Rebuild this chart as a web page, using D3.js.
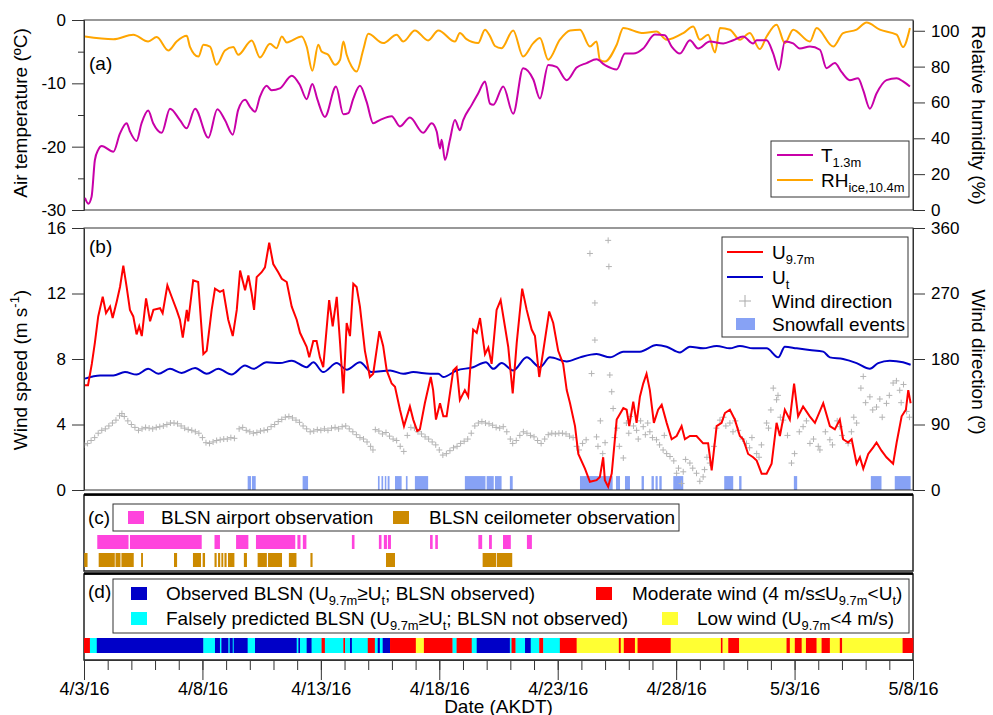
<!DOCTYPE html>
<html><head><meta charset="utf-8">
<script src="https://cdn.jsdelivr.net/npm/d3@7"></script>
<style>
body{margin:0;background:#fff}
text{font-family:"Liberation Sans",Arial,sans-serif;fill:#000}
</style>
</head><body><svg id="c" width="993" height="715"></svg>
<script>
// ---------- DATA (time in days since 4/3/16 00:00 AKDT) ----------
const dateLabels = ["4/3/16","4/8/16","4/13/16","4/18/16","4/23/16","4/28/16","5/3/16","5/8/16"];
const majorDays = [0,5,10,15,20,25,30,35];
const tempTicks = [-30,-20,-10,0];
const rhTicks = [0,20,40,60,80,100];
const speedTicks = [0,4,8,12,16];
const dirTicks = [0,90,180,270,360];

const airTemp = [[0.04,-28.1],[0.18,-29],[0.32,-27.9],[0.46,-22.1],[0.6,-20.5],[0.75,-19.9],[1.24,-20.8],[1.52,-17.9],[1.8,-16.3],[1.94,-17.6],[2.22,-19.1],[2.43,-16.3],[2.71,-14.3],[2.92,-16.3],[3.28,-17.8],[3.63,-14.0],[4.05,-15.8],[4.33,-17.1],[4.69,-14.0],[5.25,-18.6],[5.63,-14.1],[5.95,-15.8],[6.28,-18.1],[6.51,-14.2],[6.8,-12.6],[7.01,-13.7],[7.22,-14.5],[7.43,-12.1],[7.71,-10.4],[7.92,-11.1],[8.27,-10.8],[8.77,-8.8],[9.12,-10.3],[9.4,-12.5],[9.64,-10.1],[9.85,-12.5],[10.17,-15.3],[10.64,-10.5],[10.95,-14.9],[11.16,-14.7],[11.37,-12.4],[11.65,-10.4],[11.93,-12.9],[12.21,-16.3],[12.49,-15.8],[12.99,-15.2],[13.34,-16.8],[13.76,-15.4],[14.32,-17.8],[14.68,-16.3],[14.89,-17.6],[15.03,-20.3],[15.1,-18.9],[15.24,-22.1],[15.45,-18.9],[15.66,-15.8],[15.87,-17.4],[16.01,-15.8],[16.37,-13.4],[16.64,-11.6],[16.93,-9.7],[17.14,-13.2],[17.28,-13.4],[17.7,-10.5],[18.12,-14.8],[18.54,-7.6],[18.97,-9.4],[19.25,-12.4],[19.6,-7.1],[19.95,-7.4],[20.38,-9.5],[20.8,-7.5],[21.22,-6.8],[21.64,-6.2],[21.99,-7.1],[22.49,-7.8],[22.84,-5.3],[23.19,-5.3],[23.61,-4.5],[24.1,-2.3],[24.52,-2.4],[24.81,-4.2],[25.16,-5.3],[25.58,-3.2],[25.93,-4.5],[26.42,-3.4],[26.99,-3.7],[27.41,-3.2],[27.83,-2.6],[28.25,-3.7],[28.4,-3.2],[28.82,-3.2],[29.1,-5.3],[29.34,-7.9],[29.59,-3.4],[29.94,-3.7],[30.22,-4.5],[30.65,-4.2],[31.07,-4.7],[31.35,-7.6],[31.7,-6.8],[31.98,-8.2],[32.33,-9.5],[32.68,-9.2],[32.9,-11.1],[33.18,-14.0],[33.46,-11.6],[33.88,-9.5],[34.31,-9.2],[34.58,-9.7],[34.87,-10.5]];

const relHum = [[0.04,96.8],[1.24,95.3],[2.08,97.8],[2.71,94.0],[3.07,96.5],[3.56,89.0],[3.91,94.0],[4.34,97.2],[4.47,91.2],[4.83,85.6],[5.04,92.2],[5.32,91.2],[5.6,81.0],[5.95,89.0],[6.3,90.9],[6.51,86.6],[7.08,94.6],[7.43,85.1],[7.85,92.7],[8.13,90.3],[8.35,96.8],[8.56,93.5],[9.19,96.8],[9.4,91.2],[9.64,77.7],[9.89,92.2],[10.03,88.4],[10.31,86.6],[10.6,81.0],[10.81,83.8],[10.95,94.0],[11.09,86.6],[11.3,80.1],[11.51,77.3],[11.79,89.4],[12.0,98.3],[12.63,93.1],[13.2,97.8],[13.48,94.0],[13.97,100.2],[14.53,94.6],[14.96,100.2],[15.66,94.0],[15.87,98.7],[16.15,95.3],[16.64,93.1],[16.93,100.6],[17.14,97.0],[17.35,91.5],[17.63,90.3],[18.12,100.2],[18.54,85.6],[18.97,93.1],[19.25,95.9],[19.6,83.8],[20.09,95.0],[20.52,100.2],[20.94,100.6],[21.36,91.2],[21.64,94.0],[21.78,83.8],[21.99,82.8],[22.49,92.2],[22.77,101.5],[23.61,98.7],[24.17,99.6],[24.6,95.0],[25.3,98.7],[25.72,102.4],[26.0,95.0],[26.35,97.8],[26.64,87.9],[26.85,101.5],[27.27,100.6],[27.69,95.0],[28.11,98.7],[28.53,89.8],[28.82,96.8],[29.24,103.4],[29.59,93.1],[29.94,100.6],[30.65,94.0],[30.93,101.5],[31.63,91.2],[32.05,98.7],[32.62,100.6],[33.04,104.6],[33.6,100.6],[34.31,97.8],[34.58,90.9],[34.87,101.5]];

const windSpeed = [[0.04,6.4],[0.17,6.4],[0.33,7.7],[0.46,9.0],[0.6,10.6],[0.79,11.8],[0.93,10.8],[1.1,11.2],[1.21,10.5],[1.38,11.5],[1.52,12.4],[1.66,13.7],[1.8,12.4],[1.94,11.0],[2.08,10.6],[2.22,9.5],[2.33,10.0],[2.44,9.4],[2.62,11.7],[2.79,10.3],[2.93,11.0],[3.21,11.1],[3.32,10.8],[3.52,12.5],[3.7,11.8],[3.91,11.0],[4.05,10.4],[4.17,9.3],[4.34,11.0],[4.4,10.3],[4.61,12.8],[4.82,12.7],[5.04,8.3],[5.18,8.5],[5.39,11.0],[5.53,12.3],[5.74,12.1],[5.88,12.2],[6.09,10.4],[6.28,9.4],[6.45,11.0],[6.59,13.4],[6.8,12.2],[6.94,13.1],[7.08,12.0],[7.18,11.0],[7.29,13.0],[7.5,13.3],[7.64,13.6],[7.82,15.1],[7.99,13.8],[8.2,13.3],[8.35,12.9],[8.56,12.7],[8.77,11.2],[8.98,10.4],[9.12,9.6],[9.4,8.75],[9.51,8.1],[9.68,9.1],[9.82,9.1],[9.96,8.1],[10.1,7.5],[10.35,11.6],[10.5,10.0],[10.67,11.8],[10.81,9.0],[10.95,5.9],[11.09,10.2],[11.23,9.4],[11.37,12.6],[11.51,12.4],[11.65,11.2],[11.86,8.5],[12.07,6.9],[12.21,7.1],[12.47,9.7],[12.63,8.8],[12.78,7.3],[12.99,6.5],[13.13,6.3],[13.34,4.9],[13.51,3.9],[13.76,5.1],[13.9,4.3],[14.07,3.6],[14.18,3.7],[14.39,5.3],[14.64,6.9],[14.74,6.1],[14.86,4.3],[15.03,5.3],[15.17,4.5],[15.31,4.5],[15.59,7.3],[15.73,7.5],[15.87,5.5],[16.08,6.1],[16.22,5.7],[16.43,9.8],[16.58,9.6],[16.72,10.5],[16.93,8.3],[17.07,8.7],[17.21,7.7],[17.42,11.0],[17.59,11.6],[17.77,10.0],[17.91,8.75],[18.1,5.9],[18.27,9.0],[18.5,12.3],[18.69,11.0],[18.9,9.8],[19.04,9.4],[19.22,6.9],[19.39,8.5],[19.64,10.9],[19.81,10.2],[20.02,8.5],[20.23,7.7],[20.38,6.1],[20.52,5.3],[20.73,3.9],[20.87,2.2],[21.15,1.3],[21.36,0.5],[21.64,0.6],[21.78,0.8],[21.92,2.0],[21.99,0.6],[22.13,0.2],[22.28,1.0],[22.49,4.3],[22.77,5.0],[22.91,4.9],[23.02,3.9],[23.19,5.4],[23.33,4.1],[23.47,5.7],[23.61,6.5],[23.75,7.1],[23.89,6.1],[24.06,4.1],[24.24,4.9],[24.39,5.2],[24.6,4.1],[24.81,3.1],[25.02,3.3],[25.23,3.9],[25.37,3.1],[25.58,3.3],[25.86,3.3],[26.14,2.85],[26.35,2.85],[26.5,1.2],[26.71,3.9],[26.92,4.1],[27.06,4.7],[27.27,4.9],[27.48,4.3],[27.69,3.3],[27.83,3.1],[28.04,2.2],[28.25,2.0],[28.4,1.8],[28.61,1.0],[28.82,1.0],[29.03,1.6],[29.24,4.1],[29.38,3.3],[29.59,4.9],[29.8,4.3],[29.98,6.5],[30.15,4.5],[30.36,5.1],[30.64,4.5],[30.86,4.1],[31.21,5.3],[31.49,3.9],[31.7,3.7],[31.91,4.3],[32.05,3.1],[32.26,2.9],[32.41,3.1],[32.62,1.6],[32.76,2.0],[32.9,1.3],[33.11,2.2],[33.32,2.6],[33.46,2.9],[33.67,2.4],[33.88,2.0],[34.02,1.8],[34.16,1.6],[34.31,2.9],[34.52,4.5],[34.7,4.9],[34.8,6.1],[34.9,5.3]];

const threshold = [[0.04,6.8],[0.68,7.0],[1.24,7.0],[1.73,7.2],[2.22,7.05],[2.71,7.4],[3.14,7.1],[3.63,7.4],[4.12,7.15],[4.69,7.45],[5.18,7.1],[5.67,7.4],[6.23,7.05],[6.8,7.6],[7.15,7.4],[7.71,7.8],[8.27,7.75],[8.77,7.9],[9.4,7.5],[9.68,7.8],[10.1,7.2],[10.67,7.75],[11.09,7.35],[11.65,7.8],[12.14,7.2],[12.92,7.3],[13.48,7.1],[13.9,7.2],[14.61,7.1],[14.96,7.1],[15.17,6.9],[15.73,7.3],[16.43,7.5],[16.97,7.8],[17.28,7.4],[17.63,7.75],[18.12,7.3],[18.69,8.1],[19.25,7.5],[19.67,8.1],[20.38,7.85],[20.94,8.1],[21.64,8.3],[22.21,8.1],[22.77,8.45],[23.47,8.45],[24.17,8.85],[24.6,8.75],[25.16,8.4],[25.58,8.75],[26.14,8.65],[26.71,8.8],[27.27,8.65],[27.69,8.8],[28.25,8.65],[28.82,8.65],[29.31,8.1],[29.59,8.75],[30.09,8.65],[30.64,8.55],[31.21,8.45],[31.49,8.1],[32.05,8.0],[32.62,7.75],[33.18,7.4],[33.53,7.75],[34.02,7.9],[34.58,7.8],[34.9,7.65]];

const windDir = [[0,62],[0.15,64],[0.3,68],[0.45,72],[0.6,78],[0.75,82],[0.9,84],[1.05,88],[1.2,92],[1.35,96],[1.5,102],[1.6,105],[1.7,101],[1.85,95],[2.0,90],[2.15,86],[2.3,82],[2.45,84],[2.6,86],[2.75,85],[2.9,84],[3.05,86],[3.2,87],[3.35,88],[3.5,90],[3.65,92],[3.8,92],[3.95,91],[4.1,88],[4.25,85],[4.4,83],[4.55,82],[4.7,80],[4.85,78],[5.0,72],[5.15,65],[5.3,64],[5.45,66],[5.6,68],[5.75,69],[5.9,70],[6.05,70],[6.2,72],[6.35,71],[6.55,84],[6.7,86],[6.85,82],[7.0,80],[7.15,78],[7.3,79],[7.45,81],[7.6,82],[7.75,83],[7.9,87],[8.05,90],[8.2,94],[8.35,97],[8.5,100],[8.65,101],[8.8,99],[8.95,96],[9.1,93],[9.25,88],[9.4,84],[9.55,80],[9.7,81],[9.85,83],[10.0,82],[10.15,84],[10.3,82],[10.45,85],[10.6,86],[10.75,84],[10.9,87],[11.05,88],[11.2,84],[11.35,80],[11.5,76],[11.65,72],[11.8,70],[11.95,66],[12.1,60],[12.2,55],[12.3,83],[12.45,81],[12.6,77],[12.75,79],[12.9,74],[13.05,70],[13.2,68],[13.35,60],[13.5,53],[13.65,75],[13.8,86],[13.95,85],[14.1,80],[14.25,77],[14.4,73],[14.55,70],[14.7,66],[14.85,62],[15.0,55],[15.15,48],[15.3,50],[15.45,54],[15.6,58],[15.75,60],[15.9,64],[16.05,67],[16.2,70],[16.35,78],[16.5,88],[16.65,92],[16.8,94],[16.95,92],[17.1,91],[17.25,89],[17.4,86],[17.55,85],[17.7,87],[17.85,80],[18.0,70],[18.1,64],[18.25,68],[18.4,75],[18.55,80],[18.7,78],[18.85,75],[19.0,73],[19.15,68],[19.3,64],[19.45,70],[19.6,76],[19.75,78],[19.9,77],[20.05,78],[20.2,78],[20.35,77],[20.5,74],[20.65,72],[20.8,60],[20.9,55],[21.05,64],[21.2,69],[21.36,325],[21.43,160],[21.57,257],[21.57,206],[21.64,73],[21.7,60],[21.8,95],[21.9,50],[22.0,65],[22.13,343],[22.16,307],[22.2,158],[22.28,135],[22.34,112],[22.4,72],[22.5,85],[22.6,60],[22.77,44],[22.9,92],[23.0,78],[23.05,101],[23.2,88],[23.33,82],[23.4,70],[23.5,95],[23.61,87],[23.7,76],[23.8,92],[23.89,80],[24.0,72],[24.17,69],[24.3,62],[24.45,55],[24.5,75],[24.6,50],[24.74,46],[24.9,40],[25.02,23],[25.1,30],[25.23,9],[25.3,25],[25.4,42],[25.58,37],[25.7,30],[25.86,23],[26.0,12],[26.14,18],[26.2,28],[26.3,45],[26.42,37],[26.6,60],[26.7,85],[26.85,96],[27.0,100],[27.1,88],[27.27,92],[27.4,80],[27.5,95],[27.62,82],[27.8,70],[27.97,64],[28.1,58],[28.2,72],[28.4,50],[28.5,45],[28.6,62],[28.82,92],[28.9,85],[29.0,110],[29.1,140],[29.24,124],[29.3,130],[29.4,100],[29.52,96],[29.7,75],[29.87,37],[30.0,50],[30.2,80],[30.36,87],[30.5,95],[30.65,64],[30.8,70],[31.0,60],[31.07,55],[31.3,80],[31.49,69],[31.6,62],[31.8,95],[31.91,87],[32.0,75],[32.26,64],[32.4,80],[32.5,100],[32.62,92],[32.8,140],[32.9,156],[33.0,120],[33.18,128],[33.3,110],[33.46,114],[33.6,125],[33.7,100],[33.88,119],[34.0,130],[34.16,147],[34.3,150],[34.44,137],[34.5,120],[34.6,145],[34.73,108],[34.85,100]];

const snowfall = [[6.91,7.05],[7.09,7.25],[9.23,9.46],[12.41,12.48],[12.56,12.63],[12.7,12.76],[12.82,12.9],[13.13,13.41],[13.59,13.66],[13.97,14.53],[16.08,16.95],[17.0,17.3],[17.35,17.63],[17.98,18.1],[20.94,22.32],[22.46,22.63],[22.84,23.05],[23.54,23.64],[23.96,24.06],[24.13,24.22],[24.29,24.39],[24.88,25.3],[27.03,27.41],[27.66,27.76],[29.97,30.11],[33.22,33.67],[34.23,34.9]];

const airportObs = [[0.56,1.88],[1.94,4.97],[5.51,5.74],[6.42,6.94],[7.26,8.92],[9.01,9.14],[9.24,9.39],[11.31,11.42],[12.45,12.56],[12.66,12.79],[12.83,12.96],[14.61,14.72],[14.83,14.94],[16.65,16.81],[17.1,17.22],[17.69,18.02],[18.7,18.91]];
const ceilometerObs = [[0.01,0.15],[0.62,1.3],[1.33,1.54],[1.58,2.1],[2.41,2.49],[3.8,3.93],[4.6,4.94],[5.01,5.11],[5.51,5.6],[5.66,5.75],[5.8,5.88],[5.93,6.02],[6.08,6.35],[6.75,6.88],[7.33,7.72],[7.77,8.36],[8.65,8.97],[9.56,9.65],[12.75,13.13],[16.83,17.4],[17.43,18.08]];

const classSegments = [[0,0.25,"mod"],[0.25,0.54,"false"],[0.54,5.04,"obs"],[5.04,5.53,"false"],[5.53,5.74,"obs"],[5.74,5.8,"false"],[5.8,6.1,"obs"],[6.1,6.15,"false"],[6.15,6.28,"obs"],[6.28,6.32,"false"],[6.32,6.91,"obs"],[6.91,7.22,"false"],[7.22,8.98,"obs"],[8.98,9.05,"false"],[9.05,9.12,"obs"],[9.12,9.4,"false"],[9.4,9.61,"obs"],[9.61,10.03,"false"],[10.03,10.17,"mod"],[10.17,10.95,"false"],[10.95,11.02,"mod"],[11.02,11.23,"false"],[11.23,11.31,"obs"],[11.31,11.98,"false"],[11.98,12.28,"mod"],[12.28,12.4,"false"],[12.4,12.49,"obs"],[12.49,12.61,"false"],[12.61,12.92,"obs"],[12.92,14.01,"mod"],[14.01,14.35,"low"],[14.35,15.56,"mod"],[15.56,15.73,"false"],[15.73,16.37,"mod"],[16.37,16.58,"false"],[16.58,17.98,"obs"],[17.98,18.05,"false"],[18.05,18.22,"mod"],[18.22,18.62,"false"],[18.62,18.86,"obs"],[18.86,19.22,"false"],[19.22,19.39,"mod"],[19.39,20.09,"false"],[20.09,20.8,"mod"],[20.8,22.58,"low"],[22.58,22.66,"mod"],[22.66,22.79,"low"],[22.79,23.26,"mod"],[23.26,23.37,"low"],[23.37,24.77,"mod"],[24.77,26.89,"low"],[26.89,26.96,"mod"],[26.96,27.2,"low"],[27.2,27.66,"mod"],[27.66,29.66,"low"],[29.66,29.8,"mod"],[29.8,30.01,"low"],[30.01,30.3,"mod"],[30.3,30.48,"low"],[30.48,30.93,"mod"],[30.93,31.14,"low"],[31.14,31.49,"mod"],[31.49,31.91,"low"],[31.91,32.01,"mod"],[32.01,34.56,"low"],[34.56,35,"mod"]];
const classColors = {obs:"#0000c8", false:"#00ffff", mod:"#ff0000", low:"#ffff33"};

// ---------- DRAW ----------
const svg = d3.select("#c");
const X0 = 84, X1 = 913;
const x = d3.scaleLinear().domain([0,35]).range([X0,X1]);
const yT = d3.scaleLinear().domain([-30,0]).range([210,20]);
const yRH = d3.scaleLinear().domain([0,106]).range([210,20]);
const yU = d3.scaleLinear().domain([0,16]).range([490,228]);
const yDir = d3.scaleLinear().domain([0,360]).range([490,228]);

const defs = svg.append("defs");
defs.append("clipPath").attr("id","clipA").append("rect").attr("x",X0).attr("y",20).attr("width",X1-X0).attr("height",190);
defs.append("clipPath").attr("id","clipB").append("rect").attr("x",X0).attr("y",228).attr("width",X1-X0).attr("height",262);

function styleAxis(g, size){
  g.selectAll("text").style("font-size",(size||18)+"px").style("font-family",'"Liberation Sans",Arial,sans-serif');
  g.selectAll("line,path").attr("stroke","#333");
}
const fmt = d => String(d);

// panel a
svg.append("g").attr("transform",`translate(${X0},0)`).call(d3.axisLeft(yT).tickValues(tempTicks).tickSize(12).tickPadding(6).tickSizeOuter(0).tickFormat(fmt)).call(styleAxis,17);
svg.append("g").attr("transform",`translate(${X0},0)`).call(d3.axisLeft(yT).tickValues([-25,-15,-5]).tickSize(6).tickSizeOuter(0).tickFormat("")).call(styleAxis);
svg.append("g").attr("transform",`translate(${X1},0)`).call(d3.axisRight(yRH).tickValues(rhTicks).tickSize(12).tickPadding(6).tickSizeOuter(0).tickFormat(fmt)).call(styleAxis,17);

const gA = svg.append("g").attr("clip-path","url(#clipA)");
gA.append("path").datum(relHum).attr("fill","none").attr("stroke","#ffa500").attr("stroke-width",2)
  .attr("d", d3.line().x(d=>x(d[0])).y(d=>yRH(d[1])).curve(d3.curveMonotoneX));
gA.append("path").datum(airTemp).attr("fill","none").attr("stroke","#c800a8").attr("stroke-width",2)
  .attr("d", d3.line().x(d=>x(d[0])).y(d=>yT(d[1])).curve(d3.curveMonotoneX));
svg.append("rect").attr("x",X0).attr("y",20).attr("width",X1-X0).attr("height",190).attr("fill","none").attr("stroke","#333");

// panel b
svg.append("g").attr("transform",`translate(${X0},0)`).call(d3.axisLeft(yU).tickValues(speedTicks).tickSize(12).tickPadding(6).tickSizeOuter(0).tickFormat(fmt)).call(styleAxis,17);
svg.append("g").attr("transform",`translate(${X1},0)`).call(d3.axisRight(yDir).tickValues(dirTicks).tickSize(12).tickPadding(6).tickSizeOuter(0).tickFormat(fmt)).call(styleAxis,17);

const gB = svg.append("g").attr("clip-path","url(#clipB)");
gB.selectAll("rect.snow").data(snowfall).join("rect").attr("class","snow")
  .attr("x",d=>x(d[0])).attr("width",d=>Math.max(1.5,x(d[1])-x(d[0])))
  .attr("y",yU(0.85)).attr("height",yU(0)-yU(0.85)).attr("fill","#87a2f5");
gB.selectAll("path.dir").data(windDir).join("path").attr("class","dir")
  .attr("d",d=>{const px=x(d[0]),py=yDir(d[1]);return `M${px-3},${py}h6M${px},${py-3}v6`;})
  .attr("stroke","#b4b4b4").attr("stroke-width",1);
gB.append("path").datum(threshold).attr("fill","none").attr("stroke","#0000c8").attr("stroke-width",2)
  .attr("d", d3.line().x(d=>x(d[0])).y(d=>yU(d[1])).curve(d3.curveMonotoneX));
gB.append("path").datum(windSpeed).attr("fill","none").attr("stroke","#ff0000").attr("stroke-width",2)
  .attr("d", d3.line().x(d=>x(d[0])).y(d=>yU(d[1])));
svg.append("rect").attr("x",X0).attr("y",228).attr("width",X1-X0).attr("height",262).attr("fill","none").attr("stroke","#333");

// panel c
svg.append("rect").attr("x",X0).attr("y",495).attr("width",X1-X0).attr("height",76).attr("fill","none").attr("stroke","#222").attr("stroke-width",1.5);
svg.append("line").attr("x1",X0).attr("x2",X1).attr("y1",494.5).attr("y2",494.5).attr("stroke","#000").attr("stroke-width",2.5);
svg.selectAll("rect.air").data(airportObs).join("rect").attr("class","air")
  .attr("x",d=>x(d[0])).attr("width",d=>Math.max(1.5,x(d[1])-x(d[0]))).attr("y",535).attr("height",14).attr("fill","#ff44dd");
svg.selectAll("rect.ceil").data(ceilometerObs).join("rect").attr("class","ceil")
  .attr("x",d=>x(d[0])).attr("width",d=>Math.max(1.5,x(d[1])-x(d[0]))).attr("y",553).attr("height",14).attr("fill","#cc8a00");

// panel d
svg.append("rect").attr("x",X0).attr("y",574).attr("width",X1-X0).attr("height",86).attr("fill","none").attr("stroke","#222").attr("stroke-width",1.5);
svg.append("line").attr("x1",X0).attr("x2",X1).attr("y1",573.5).attr("y2",573.5).attr("stroke","#000").attr("stroke-width",2.5);
svg.selectAll("rect.cls").data(classSegments).join("rect").attr("class","cls")
  .attr("x",d=>x(d[0])).attr("width",d=>x(d[1])-x(d[0])+0.3).attr("y",638).attr("height",15).attr("fill",d=>classColors[d[2]]);

// x axis
svg.append("g").attr("transform","translate(0,660)").call(d3.axisBottom(x).tickValues(d3.range(0,36)).tickSize(10).tickSizeOuter(0).tickFormat("")).call(styleAxis);
svg.append("g").attr("transform","translate(0,660)").call(d3.axisBottom(x).tickValues(majorDays).tickSize(20).tickPadding(2).tickSizeOuter(0).tickFormat((d,i)=>dateLabels[i])).call(styleAxis);

// rich text helper
function rich(g, px, py, parts, size, anchor){
  const t = g.append("text").attr("x",px).attr("y",py).style("font-size",size+"px");
  if(anchor) t.attr("text-anchor",anchor);
  let off = 0;
  parts.forEach(p=>{
    const s = t.append("tspan").text(p[0]);
    const want = p[1]==="sub" ? 5 : p[1]==="sup" ? -8 : 0;
    if(want!==off){ s.attr("dy", want-off); off = want; }
    if(p[1]) s.style("font-size",(size*0.68)+"px");
  });
  return t;
}

// titles
svg.append("text").attr("transform","translate(27,113) rotate(-90)").attr("text-anchor","middle").style("font-size","19px").text("Air temperature (ºC)");
rich(svg.append("g").attr("transform","translate(27,370) rotate(-90)"),0,0,[["Wind speed (m s"],["-1","sup"],[")"]],19,"middle");
svg.append("text").attr("transform","translate(972,115) rotate(90)").attr("text-anchor","middle").style("font-size","19px").text("Relative humidity (%)");
svg.append("text").attr("transform","translate(972,362) rotate(90)").attr("text-anchor","middle").style("font-size","19px").text("Wind direction (º)");
svg.append("text").attr("x",(X0+X1)/2).attr("y",713).attr("text-anchor","middle").style("font-size","19px").text("Date (AKDT)");

// panel labels
[["(a)",89,70],["(b)",89,253],["(c)",88,524],["(d)",88,598]].forEach(l=>svg.append("text").attr("x",l[1]).attr("y",l[2]).style("font-size","19px").text(l[0]));

// legend a
const la = svg.append("g");
la.append("rect").attr("x",771).attr("y",141).attr("width",138).attr("height",56).attr("fill","#fff").attr("stroke","#333");
la.append("line").attr("x1",777).attr("x2",813).attr("y1",155).attr("y2",155).attr("stroke","#c800a8").attr("stroke-width",2);
la.append("line").attr("x1",777).attr("x2",813).attr("y1",180).attr("y2",180).attr("stroke","#ffa500").attr("stroke-width",2);
rich(la,821,162,[["T"],["1.3m","sub"]],19);
rich(la,821,187,[["RH"],["ice,10.4m","sub"]],19);

// legend b
const lb = svg.append("g");
lb.append("rect").attr("x",722).attr("y",237).attr("width",186).attr("height",100).attr("fill","#fff").attr("stroke","#333");
lb.append("line").attr("x1",727).attr("x2",763).attr("y1",252).attr("y2",252).attr("stroke","#ff0000").attr("stroke-width",2);
lb.append("line").attr("x1",727).attr("x2",763).attr("y1",277).attr("y2",277).attr("stroke","#0000c8").attr("stroke-width",2);
lb.append("path").attr("d","M739,301h12M745,295v12").attr("stroke","#aaa");
lb.append("rect").attr("x",736).attr("y",318).attr("width",19).attr("height",12).attr("fill","#87a2f5");
rich(lb,772,259,[["U"],["9.7m","sub"]],19);
rich(lb,772,284,[["U"],["t","sub"]],19);
rich(lb,772,308,[["Wind direction"]],19);
rich(lb,772,331,[["Snowfall events"]],19);

// legend c
const lc = svg.append("g");
lc.append("rect").attr("x",113).attr("y",504).attr("width",566).attr("height",27).attr("fill","#fff").attr("stroke","#333");
lc.append("rect").attr("x",128).attr("y",511).attr("width",16).attr("height",13).attr("fill","#ff44dd");
lc.append("rect").attr("x",393).attr("y",511).attr("width",16).attr("height",13).attr("fill","#cc8a00");
rich(lc,161,524,[["BLSN airport observation"]],19);
rich(lc,429,524,[["BLSN ceilometer observation"]],19);

// legend d
const ld = svg.append("g");
ld.append("rect").attr("x",113).attr("y",579).attr("width",796).attr("height",54).attr("fill","#fff").attr("stroke","#333");
ld.append("rect").attr("x",131).attr("y",587).attr("width",16).attr("height",13).attr("fill",classColors.obs);
ld.append("rect").attr("x",131).attr("y",612).attr("width",16).attr("height",13).attr("fill",classColors.false);
ld.append("rect").attr("x",596).attr("y",587).attr("width",16).attr("height",13).attr("fill",classColors.mod);
ld.append("rect").attr("x",662).attr("y",612).attr("width",16).attr("height",13).attr("fill",classColors.low);
rich(ld,166,600,[["Observed BLSN (U"],["9.7m","sub"],["≥U"],["t","sub"],["; BLSN observed)"]],19);
rich(ld,166,625,[["Falsely predicted BLSN (U"],["9.7m","sub"],["≥U"],["t","sub"],["; BLSN not observed)"]],19);
rich(ld,632,600,[["Moderate wind (4 m/s≤U"],["9.7m","sub"],["<U"],["t","sub"],[")"]],19);
rich(ld,697,625,[["Low wind (U"],["9.7m","sub"],["<4 m/s)"]],19);
</script></body></html>
